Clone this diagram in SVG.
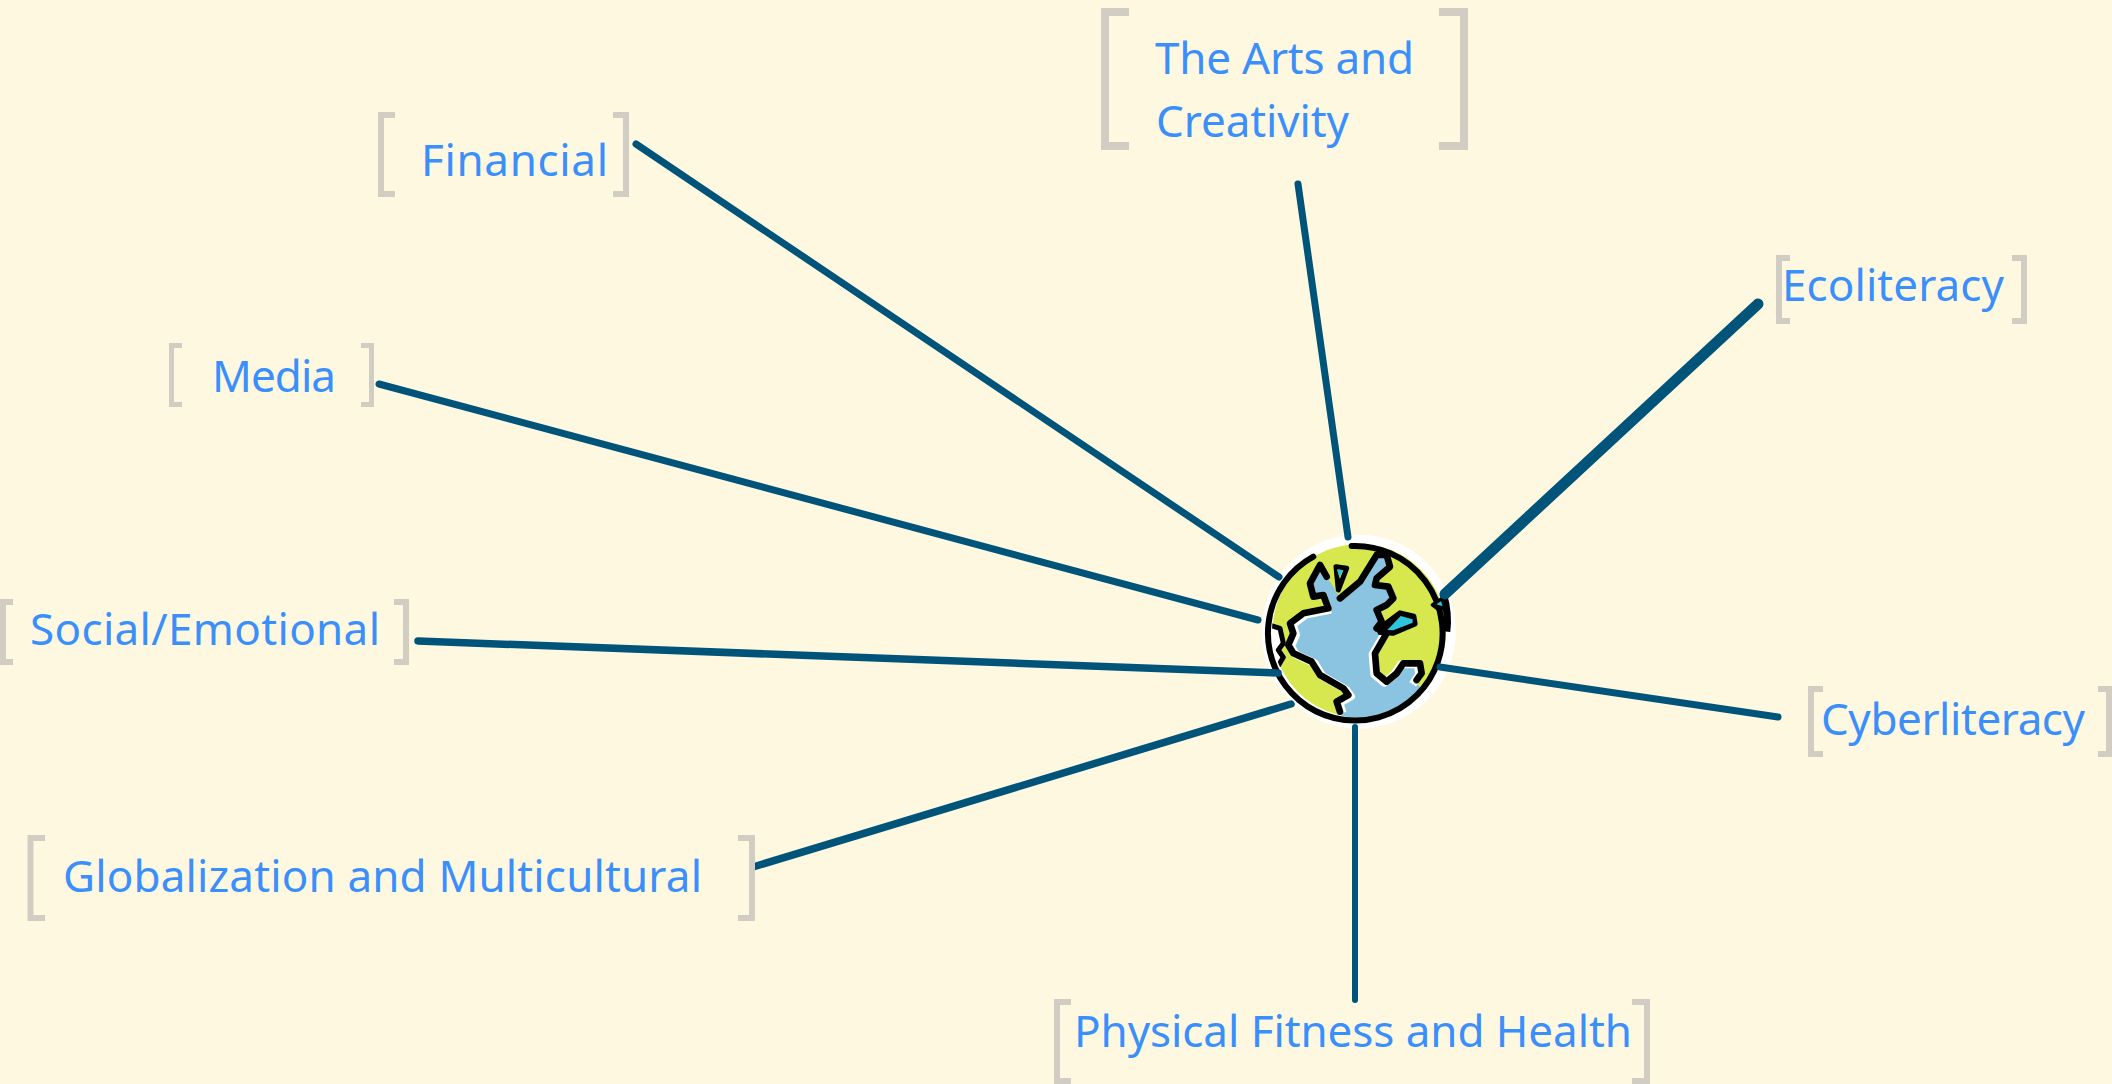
<svg xmlns="http://www.w3.org/2000/svg" width="2112" height="1084" viewBox="0 0 2112 1084">
<style>
text{font-family:"Noto Sans","Open Sans","Liberation Sans",sans-serif;font-size:44px;fill:#3b8ffb}
.c{fill:none;stroke:#00547a;stroke-width:7;stroke-linecap:round}
.b{fill:none;stroke:#d1cdc3;stroke-width:6}
.k{stroke:#000;stroke-width:20;stroke-linejoin:round;stroke-linecap:round}
.w{fill:none;stroke:#fff;stroke-width:24;stroke-linejoin:round}
</style>
<defs><clipPath id="disk"><circle cx="388" cy="332" r="262"/></clipPath></defs>
<rect width="2112" height="1084" fill="#fff8e1"/>
<g id="globe" transform="translate(1230 520) scale(.3333)">
<circle cx="386" cy="335" r="291" fill="#fff"/>
<circle cx="388" cy="332" r="260" fill="#d6e84e"/>
<g clip-path="url(#disk)">
<path fill="#8ac4e0" d="M440 105L470 105L480 140L440 175L435 195L475 200L490 235L470 255L440 270L455 305L440 325L470 340L435 400L440 460L470 485L500 460L520 430L570 430L575 460L555 490L600 520L420 620L335 590L320 545L355 525L340 505L270 465L245 425L190 400L175 375L190 340L180 310L220 280L295 265L280 225L250 230L240 190L270 135L290 170L310 200L330 235L390 185Z"/>
<path class="w" transform="translate(8 4)" d="M330 575L320 545L355 525L340 505L270 465L245 425L190 400L175 375L190 340L180 310L220 280L295 265"/>
<path class="w" transform="translate(-7 3)" d="M470 340L435 400L440 460L470 485L500 460L520 430L570 430L575 460L555 490"/>
<path fill="#fff" d="M118 315L150 330L160 370L145 400L160 410L145 440L110 430Z"/>
<path class="k" fill="none" style="stroke-width:15" d="M118 315L150 325L160 370L145 390L160 412L145 437"/>
</g>
<path class="k" fill="none" d="M440 105L470 105L480 140L440 175L435 195L475 200L490 235L470 255L440 270L455 305L440 325M470 340L435 400L440 460L470 485L500 460L520 430L570 430L575 460L560 480M330 575L320 545L355 525L340 505L270 465L245 425L190 400L175 375L190 340L180 310L220 280L295 265L280 225L250 230L240 190L270 135L290 170M330 235L390 185L440 105"/>
<path class="k" fill="#d6e84e" style="stroke-width:15" d="M318 140L350 145L325 210Z"/>
<path fill="#2ec4dc" d="M321 148L339 150L328 174Z"/>
<path class="k" style="stroke-width:14" d="M445 328L470 308L510 278L552 288L556 312L490 340L450 338Z"/>
<path fill="#2ec4dc" d="M472 330L512 288L548 298L548 308L490 331Z"/>
<path fill="none" stroke="#000" stroke-width="18" stroke-linecap="round" d="M250 110A262 262 0 1 0 365 78"/>
<path fill="none" stroke="#000" stroke-width="22" d="M640 222Q657 280 650 335"/>
<path stroke="#000" stroke-width="10" stroke-linejoin="round" d="M607 255L632 238L652 262L625 268Z"/>
<path fill="#2ec4dc" d="M619 253L633 244L638 259Z"/>
</g>
<g id="connectors">
<path class="c" d="M636 144L1279 577"/>
<path class="c" d="M1298 184L1348 537"/>
<path class="c" style="stroke-width:11" d="M1758 304L1445 594"/>
<path class="c" d="M379 384L1258 620"/>
<path class="c" style="stroke-width:7.500" d="M418 641L1278 673"/>
<path class="c" d="M1440 667L1778 717"/>
<path class="c" style="stroke-width:7.500" d="M753 867L1291 704"/>
<path class="c" style="stroke-width:6" d="M1355 727V1000"/>
</g>
<g id="arts"><path class="b" style="stroke-width:8" d="M1129 12H1105V146H1129M1439 12H1464V146H1439"/><text x="1155" y="74" textLength="259">The Arts and</text><text x="1156" y="137" textLength="193">Creativity</text></g>
<g id="financial"><path class="b" d="M395 115H381V194H395M613 115H626V194H613"/><text x="421" y="176" textLength="187">Financial</text></g>
<g id="ecoliteracy"><path class="b" d="M1790 258H1779V321H1790M2012 258H2024V321H2012"/><text x="1782" y="301" textLength="222">Ecoliteracy</text></g>
<g id="media"><path class="b" style="stroke-width:5" d="M182 345.500H171.500V404.500H182M361 345.500H371.500V404.500H361"/><text x="212" y="392" textLength="124">Media</text></g>
<g id="social"><path class="b" d="M13 602H3V662H13M394 602H406V662H394"/><text x="30" y="645" textLength="350">Social/Emotional</text></g>
<g id="cyberliteracy"><path class="b" d="M1823 689H1811V754H1823M2098 689H2109V754H2098"/><text x="1821" y="735" textLength="264">Cyberliteracy</text></g>
<g id="global"><path class="b" d="M45 838H30.500V918H45M738 838H752V918H738"/><text x="63" y="892" textLength="639">Globalization and Multicultural</text></g>
<g id="fitness"><path class="b" d="M1071 1002H1057V1081H1071M1632 1002H1647V1081H1632"/><text x="1074" y="1047" textLength="558">Physical Fitness and Health</text></g>
</svg>
